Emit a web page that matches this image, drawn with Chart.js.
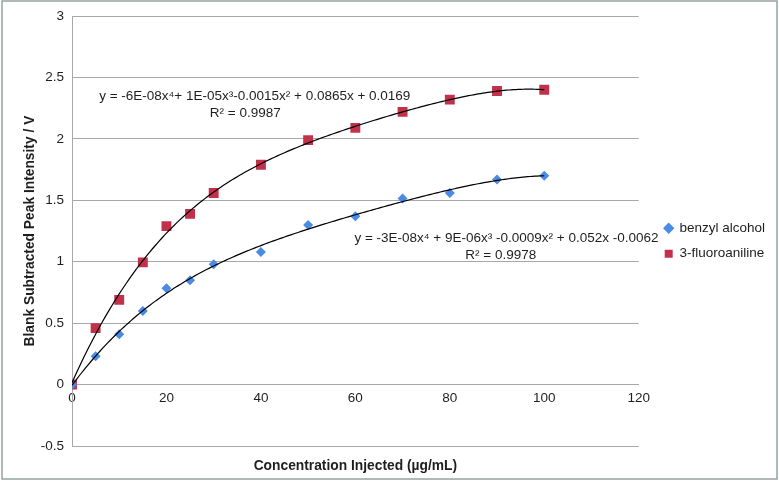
<!DOCTYPE html>
<html>
<head>
<meta charset="utf-8">
<script src="https://cdn.jsdelivr.net/npm/chart.js@4.4.1/dist/chart.umd.min.js"></script>
<style>
html, body { margin: 0; padding: 0; background: #fff; }
#wrap { position: relative; width: 779px; height: 482px; }
</style>
</head>
<body>
<div id="wrap"><canvas id="chart"></canvas></div>
<script>
// values
const concentrations = [0, 5, 10, 15, 20, 25, 30, 40, 50, 60, 70, 80, 90, 100];
const benzylAlcohol = [0, 0.23, 0.41, 0.60, 0.785, 0.85, 0.98, 1.08, 1.30, 1.37, 1.515, 1.56, 1.67, 1.70];
const fluoroaniline = [0, 0.46, 0.69, 0.995, 1.29, 1.39, 1.56, 1.79, 1.99, 2.09, 2.22, 2.32, 2.39, 2.40];
const seriesNames = ['benzyl alcohol', '3-fluoroaniline'];
const xTicks = [0, 20, 40, 60, 80, 100, 120];
const yTicks = [-0.5, 0, 0.5, 1, 1.5, 2, 2.5, 3];
const equationText = [
    ['y = -3E-08x⁴ + 9E-06x³ -0.0009x² + 0.052x -0.0062', 'R² = 0.9978'],
    ['y = -6E-08x⁴+ 1E-05x³-0.0015x² + 0.0865x + 0.0169', 'R² = 0.9987']
];

const blue = '#4a8be3';
const red = '#c3304a';
const gridColor = '#a8a8a8';
const textColor = '#1e1e1e';
const fontFamily = '"Liberation Sans", Arial, Helvetica, sans-serif';

// order 4 least squares fit, like the spreadsheet trendline
function polyFit(xs, ys, order) {
    const n = order + 1;
    const s = 100;
    const A = Array.from({ length: n }, () => new Array(n + 1).fill(0));
    xs.forEach((x, k) => {
        const t = x / s;
        for (let i = 0; i < n; i++) {
            for (let j = 0; j < n; j++) A[i][j] += Math.pow(t, i + j);
            A[i][n] += ys[k] * Math.pow(t, i);
        }
    });
    for (let c = 0; c < n; c++) {
        let p = c;
        for (let r = c + 1; r < n; r++) if (Math.abs(A[r][c]) > Math.abs(A[p][c])) p = r;
        [A[c], A[p]] = [A[p], A[c]];
        for (let r = 0; r < n; r++) {
            if (r === c) continue;
            const f = A[r][c] / A[c][c];
            for (let k = c; k <= n; k++) A[r][k] -= f * A[c][k];
        }
    }
    const coef = A.map((row, i) => row[n] / row[i]);
    return x => coef.reduce((sum, c, i) => sum + c * Math.pow(x / s, i), 0);
}

function trendPoints(ys) {
    const f = polyFit(concentrations, ys, 4);
    const last = concentrations[concentrations.length - 1];
    const pts = [];
    for (let x = 0; x <= last; x += 0.5) pts.push({ x: x, y: f(x) });
    return pts;
}

const toPoints = ys => concentrations.map((x, i) => ({ x: x, y: ys[i] }));

// where the two equation labels sit, in data units
const labelAnchors = [
    [{ x: 92, y: 1.19 }, { x: 90.8, y: 1.055 }],
    [{ x: 38.7, y: 2.35 }, { x: 36.7, y: 2.21 }]
];

const equationPlugin = {
    id: 'equations',
    afterDatasetsDraw(chart) {
        const { ctx, scales } = chart;
        ctx.save();
        ctx.fillStyle = textColor;
        ctx.font = '13.5px ' + fontFamily;
        ctx.textAlign = 'center';
        ctx.textBaseline = 'middle';
        equationText.forEach((lines, i) => {
            lines.forEach((line, j) => {
                const a = labelAnchors[i][j];
                ctx.fillText(line, scales.x.getPixelForValue(a.x), scales.y.getPixelForValue(a.y));
            });
        });
        ctx.restore();
    }
};

const framePlugin = {
    id: 'frame',
    beforeDraw(chart) {
        const { ctx, width, height } = chart;
        ctx.save();
        ctx.fillStyle = '#fff';
        ctx.fillRect(0, 0, width, height);
        ctx.restore();
    },
    afterDraw(chart) {
        const ctx = chart.ctx;
        ctx.save();
        ctx.strokeStyle = '#95a49f';
        ctx.lineWidth = 1.5;
        ctx.strokeRect(2, 1, 775, 478);
        ctx.restore();
    }
};

// empty axes used only to hold space
const spacer = (position, size) => ({
    type: 'linear',
    position: position,
    ticks: { display: false },
    grid: { display: false, drawTicks: false },
    border: { display: false },
    afterFit: s => {
        if (position === 'top') s.height = size; else s.width = size;
    }
});

const seriesStyle = (pointStyle, radius, color) => ({
    xAxisID: 'x',
    yAxisID: 'y',
    pointStyle: pointStyle,
    pointRadius: radius,
    backgroundColor: color,
    borderColor: color,
    borderWidth: 0,
    order: 2
});

const trendStyle = {
    type: 'line',
    xAxisID: 'x',
    yAxisID: 'y',
    borderColor: '#000',
    borderWidth: 1.2,
    pointRadius: 0,
    fill: false,
    order: 1
};

const ctx = document.getElementById('chart').getContext('2d');
new Chart(ctx, {
    type: 'scatter',
    data: {
        datasets: [
            { label: seriesNames[0], data: toPoints(benzylAlcohol), ...seriesStyle('rectRot', 5, blue) },
            { label: seriesNames[1], data: toPoints(fluoroaniline), ...seriesStyle('rect', 7, red) },
            { label: 'trend0', data: trendPoints(benzylAlcohol), ...trendStyle },
            { label: 'trend1', data: trendPoints(fluoroaniline), ...trendStyle }
        ]
    },
    options: {
        responsive: true,
        maintainAspectRatio: false,
        animation: false,
        layout: { padding: { left: 0, right: 4, top: 0, bottom: 0 } },
        plugins: {
            tooltip: { enabled: false },
            legend: {
                position: 'right',
                labels: {
                    usePointStyle: true,
                    boxWidth: 8,
                    boxHeight: 8,
                    padding: 12,
                    color: textColor,
                    font: { family: fontFamily, size: 13.5 },
                    filter: item => item.datasetIndex < 2
                }
            }
        },
        scales: {
            x: {
                type: 'linear',
                min: 0,
                max: 120,
                position: { y: 0 },
                afterBuildTicks: s => { s.ticks = xTicks.map(v => ({ value: v })); },
                grid: { display: false, drawTicks: false },
                border: { display: true, color: gridColor },
                ticks: {
                    color: textColor,
                    font: { family: fontFamily, size: 13.5 },
                    padding: 6,
                    maxRotation: 0,
                    callback: v => String(v)
                }
            },
            xTitle: {
                type: 'linear',
                position: 'bottom',
                ticks: { display: false },
                grid: { display: false, drawTicks: false },
                border: { display: false },
                title: {
                    display: true,
                    text: 'Concentration Injected (µg/mL)',
                    color: textColor,
                    font: { family: fontFamily, size: 13.8, weight: 'bold' },
                    padding: { top: 0, bottom: 8 }
                },
                afterFit: s => { s.height = 36; }
            },
            topPad: spacer('top', 15),
            rightPad: spacer('right', 14),
            y: {
                type: 'linear',
                min: -0.5,
                max: 3,
                afterBuildTicks: s => { s.ticks = yTicks.map(v => ({ value: v })); },
                grid: { color: gridColor, drawTicks: false },
                border: { display: true, color: gridColor },
                ticks: {
                    color: textColor,
                    font: { family: fontFamily, size: 13.5 },
                    padding: 8,
                    callback: v => String(v)
                },
                title: {
                    display: true,
                    text: 'Blank Subtracted Peak Intensity / V',
                    color: textColor,
                    font: { family: fontFamily, size: 13.8, weight: 'bold' },
                    padding: { top: 22, bottom: 0 }
                },
                afterFit: s => { s.width = 72; }
            }
        }
    },
    plugins: [equationPlugin, framePlugin]
});
</script>
</body>
</html>
